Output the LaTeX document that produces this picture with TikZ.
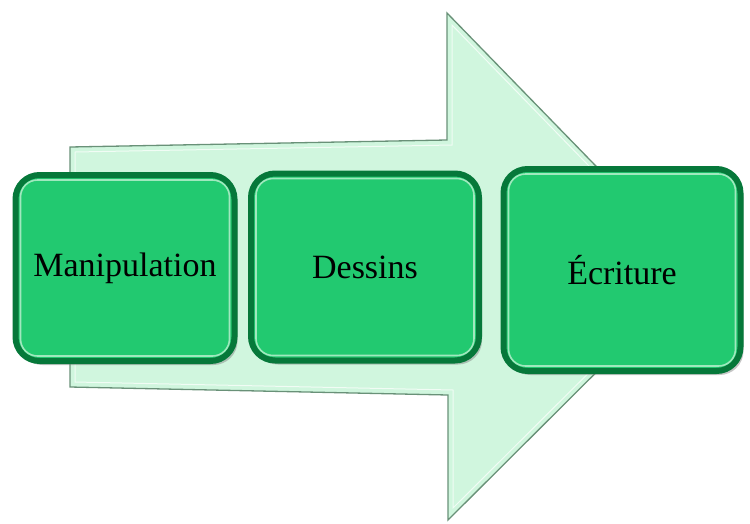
\documentclass[tikz,border=0pt]{standalone}
\usepackage{fontspec}
\setmainfont{Liberation Serif}
\usepackage{tikz}
\usetikzlibrary{shadows}
\definecolor{boxgreen}{RGB}{34,201,112}
\definecolor{rimgreen}{RGB}{6,120,58}
\definecolor{rimlight}{RGB}{160,232,190}
\definecolor{mint}{RGB}{208,246,222}
\definecolor{mintedge}{RGB}{105,145,120}

\begin{document}
\begin{tikzpicture}[y=-1pt,x=1pt]
	\tikzset{
		stepbox/.style={draw=rimgreen, line width=6pt, fill=boxgreen, rounded corners=24pt,
			font=\rmfamily\fontsize{34}{41}\selectfont, text=black,
			drop shadow={shadow xshift=3pt, shadow yshift=-4pt, opacity=.45}},
		rimline/.style={draw=rimlight, line width=1.6pt, rounded corners=17pt}
	}
	\newcommand\Rim[1]{\draw[rimline] ([xshift=8pt,yshift=-8pt]#1.north west) rectangle ([xshift=-8pt,yshift=8pt]#1.south east);}

	\useasboundingbox (0,0) rectangle (750,523);

	% big arrow behind the boxes
	\draw[mintedge, fill=mint, line width=1.3pt, line join=miter]
		(70,147) -- (447,140) -- (447,13) -- (698,271) -- (448,520) -- (448,395) -- (70,387) -- cycle;
	\draw[white!70!mint, line width=1pt]
		(75,152) -- (452,145) -- (452,25) -- (691,271) -- (453,508) -- (453,390) -- (75,382) -- cycle;

	\node[stepbox, minimum width=219pt, minimum height=186pt] (manip) at (125,268) {Manipulation};
	\node[stepbox, minimum width=228pt, minimum height=187pt] (dessins) at (365,267) {Dessins};
	\node[stepbox, minimum width=237pt, minimum height=202pt] (ecrit) at (622,270) {Écriture};

	\Rim{manip}
	\Rim{dessins}
	\Rim{ecrit}
\end{tikzpicture}
\end{document}
